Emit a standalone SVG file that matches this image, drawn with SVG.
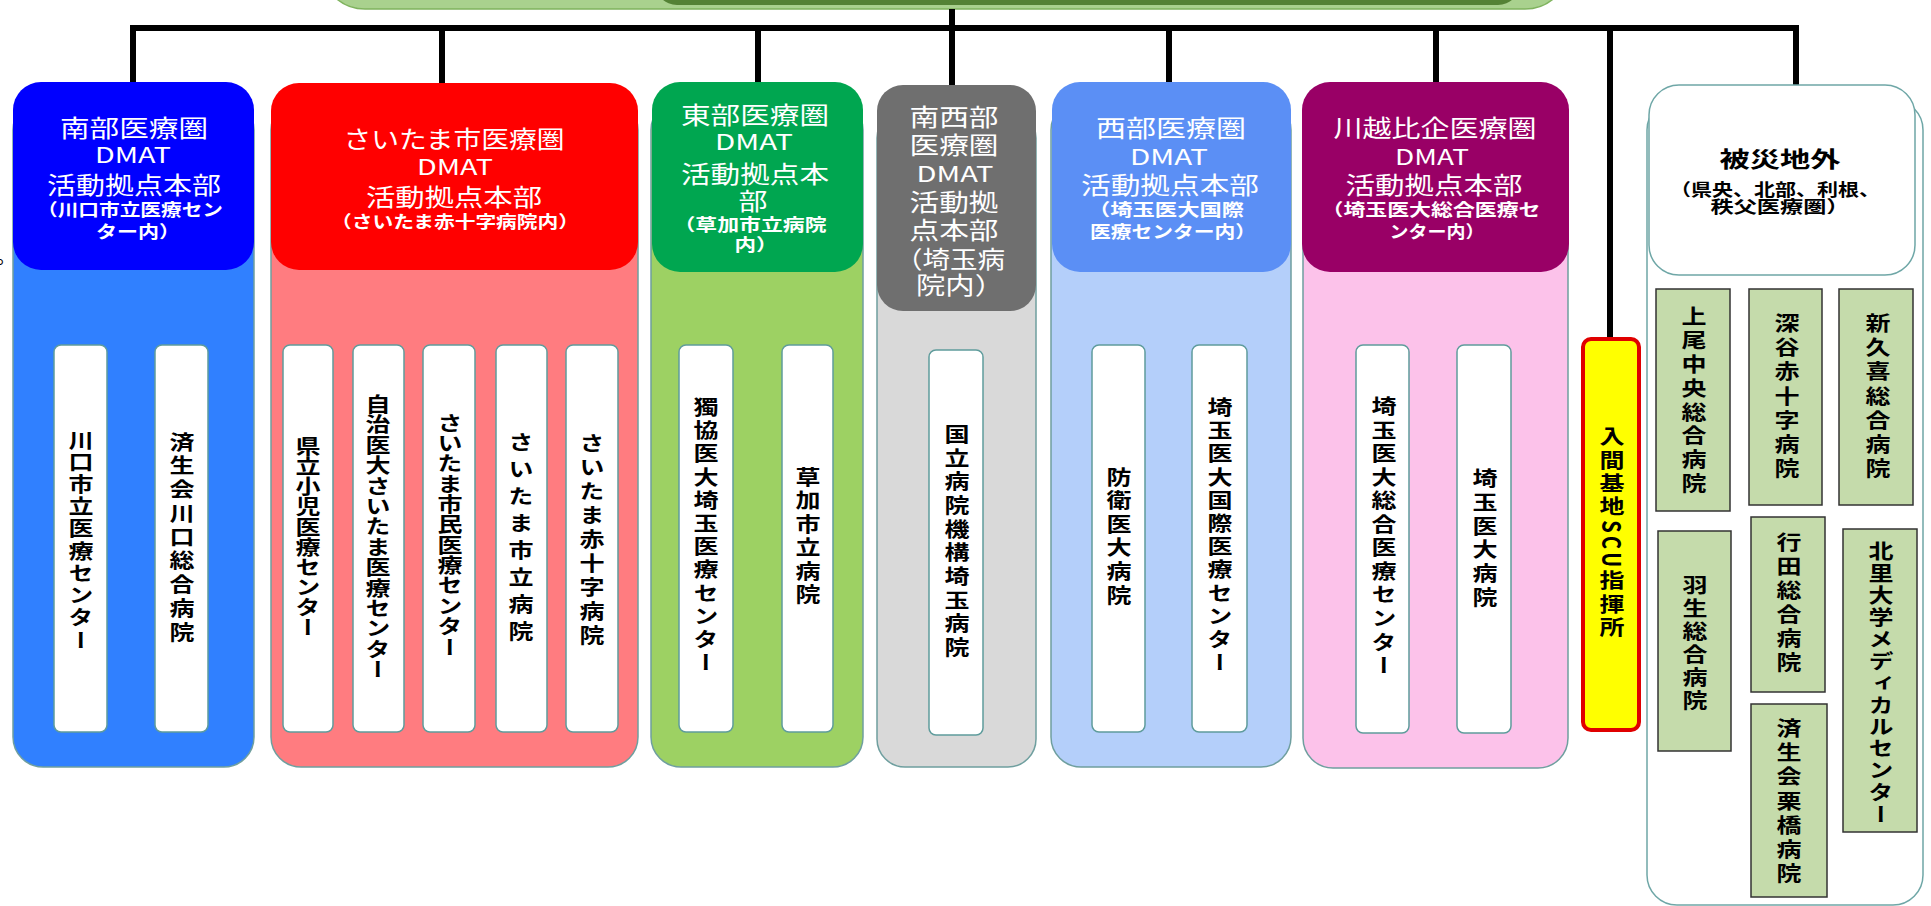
<svg xmlns="http://www.w3.org/2000/svg" width="1931" height="906" viewBox="0 0 1931 906">
<style>
text{font-family:"Noto Sans CJK JP","Liberation Sans",sans-serif}
.hw{fill:#fff;text-anchor:middle}
.hb{fill:#000;text-anchor:middle}
.f24{font-size:24px}
.f22{font-size:22px}
.f17{font-size:17px;font-weight:bold}
.bold{font-weight:bold}
.vt{writing-mode:vertical-rl;text-anchor:middle;font-size:20px;font-weight:bold;fill:#000}
.wbox{fill:#fff;stroke:#5f9c9c;stroke-width:1.5}
.gbox{fill:#c5dbab;stroke:#333;stroke-width:1.5}
.body{stroke:#6f9f9f;stroke-width:1.5}
.conn{fill:none;stroke:#000;stroke-width:6;stroke-linejoin:miter}
</style>
<rect x="0" y="0" width="1931" height="906" fill="#fff"/>
<text x="-4" y="264" style="font-size:20px;fill:#000">。</text>

<g id="top">
<rect x="325" y="-60" width="1240" height="69" rx="40" fill="#a9d18e" stroke="#7fb35e" stroke-width="1.5"/>
<rect x="655" y="-60" width="865" height="65" rx="22" fill="#548235"/>
</g>

<g id="connectors">
<path class="conn" d="M133 85 V28 H1796 V85"/>
<path class="conn" d="M952 9 V85"/>
<path class="conn" d="M442 28 V85 M758 28 V85 M1169 28 V85 M1436 28 V85"/>
<path class="conn" d="M1610 28 V338"/>
<path class="conn" d="M133 268 V303 M80 345 V303 H182 V345"/>
<path class="conn" d="M442 268 V303 M308 345 V303 H593 V345 M378 303 V345 M520 303 V345"/>
<path class="conn" d="M758 270 V303 M706 345 V303 H807 V345"/>
<path class="conn" d="M955 309 V350"/>
<path class="conn" d="M1169 270 V303 M1118 345 V303 H1220 V345"/>
<path class="conn" d="M1436 270 V303 M1383 345 V303 H1485 V345"/>
</g>

<g id="nanbu">
<rect class="body" x="13" y="100" width="241" height="667" rx="30" fill="#3080ff"/>
<rect x="13" y="82" width="241" height="188" rx="28" fill="#0000ff"/>
<text class="hw f24"><tspan x="134" y="137" textLength="148" lengthAdjust="spacingAndGlyphs">南部医療圏</tspan><tspan class="f22" x="133" y="163" textLength="76" lengthAdjust="spacingAndGlyphs">DMAT</tspan><tspan x="134" y="194" textLength="174" lengthAdjust="spacingAndGlyphs">活動拠点本部</tspan><tspan class="f17" x="130" y="216" textLength="186" lengthAdjust="spacingAndGlyphs">（川口市立医療セン</tspan><tspan class="f17" x="138" y="238" textLength="84" lengthAdjust="spacingAndGlyphs">ター内）</tspan></text>
</g>
<g id="nanbu-1"><rect class="wbox" x="54" y="345" width="53" height="387" rx="7"/>
<text class="vt" transform="translate(81,540) scale(1.25,1)" textLength="220" lengthAdjust="spacing">川口市立医療センター</text></g>
<g id="nanbu-2"><rect class="wbox" x="155" y="345" width="53" height="387" rx="7"/>
<text class="vt" transform="translate(182,537) scale(1.25,1)" textLength="210" lengthAdjust="spacing">済生会川口総合病院</text></g>

<g id="saitama">
<rect class="body" x="271" y="100" width="367" height="667" rx="30" fill="#ff7c80"/>
<rect x="271" y="83" width="367" height="187" rx="28" fill="#ff0000"/>
<text class="hw f24"><tspan x="454" y="148" textLength="221" lengthAdjust="spacingAndGlyphs">さいたま市医療圏</tspan><tspan class="f22" x="455" y="175" textLength="76" lengthAdjust="spacingAndGlyphs">DMAT</tspan><tspan x="454" y="206" textLength="176" lengthAdjust="spacingAndGlyphs">活動拠点本部</tspan><tspan class="f17" x="455" y="228" textLength="248" lengthAdjust="spacingAndGlyphs">（さいたま赤十字病院内）</tspan></text>
</g>
<g id="saitama-1"><rect class="wbox" x="283" y="345" width="50" height="387" rx="7"/>
<text class="vt" transform="translate(308,537) scale(1.25,1)" textLength="201" lengthAdjust="spacing">県立小児医療センター</text></g>
<g id="saitama-2"><rect class="wbox" x="353" y="345" width="51" height="387" rx="7"/>
<text class="vt" transform="translate(378,537) scale(1.25,1)" textLength="285" lengthAdjust="spacing">自治医大さいたま医療センター</text></g>
<g id="saitama-3"><rect class="wbox" x="423" y="345" width="52" height="387" rx="7"/>
<text class="vt" transform="translate(450,535) scale(1.25,1)" textLength="244" lengthAdjust="spacing">さいたま市民医療センター</text></g>
<g id="saitama-4"><rect class="wbox" x="496" y="345" width="51" height="387" rx="7"/>
<text class="vt" transform="translate(521,537) scale(1.25,1)" textLength="209" lengthAdjust="spacing">さいたま市立病院</text></g>
<g id="saitama-5"><rect class="wbox" x="566" y="345" width="52" height="387" rx="7"/>
<text class="vt" transform="translate(592,539) scale(1.25,1)" textLength="212" lengthAdjust="spacing">さいたま赤十字病院</text></g>

<g id="tobu">
<rect class="body" x="651" y="100" width="212" height="667" rx="30" fill="#9dd163"/>
<rect x="652" y="82" width="211" height="190" rx="28" fill="#00a650"/>
<text class="hw f24"><tspan x="755" y="124" textLength="148" lengthAdjust="spacingAndGlyphs">東部医療圏</tspan><tspan class="f22" x="754" y="150" textLength="78" lengthAdjust="spacingAndGlyphs">DMAT</tspan><tspan x="755" y="183" textLength="148" lengthAdjust="spacingAndGlyphs">活動拠点本</tspan><tspan x="753" y="210" textLength="29" lengthAdjust="spacingAndGlyphs">部</tspan><tspan class="f17" x="750" y="231" textLength="153" lengthAdjust="spacingAndGlyphs">（草加市立病院</tspan><tspan class="f17" x="756" y="251" textLength="43" lengthAdjust="spacingAndGlyphs">内）</tspan></text>
</g>
<g id="tobu-1"><rect class="wbox" x="679" y="345" width="54" height="387" rx="7"/>
<text class="vt" transform="translate(706,535) scale(1.25,1)" textLength="275" lengthAdjust="spacing">獨協医大埼玉医療センター</text></g>
<g id="tobu-2"><rect class="wbox" x="782" y="345" width="51" height="387" rx="7"/>
<text class="vt" transform="translate(808,536) scale(1.25,1)" textLength="137" lengthAdjust="spacing">草加市立病院</text></g>

<g id="nanseibu">
<rect class="body" x="877" y="110" width="159" height="657" rx="28" fill="#d9d9d9"/>
<rect x="877" y="85" width="159" height="226" rx="26" fill="#6f6f6f"/>
<text class="hw f24"><tspan x="954" y="126" textLength="89" lengthAdjust="spacingAndGlyphs">南西部</tspan><tspan x="954" y="154" textLength="89" lengthAdjust="spacingAndGlyphs">医療圏</tspan><tspan class="f22" x="955" y="182" textLength="77" lengthAdjust="spacingAndGlyphs">DMAT</tspan><tspan x="954" y="211" textLength="89" lengthAdjust="spacingAndGlyphs">活動拠</tspan><tspan x="954" y="239" textLength="89" lengthAdjust="spacingAndGlyphs">点本部</tspan><tspan x="950" y="268" textLength="110" lengthAdjust="spacingAndGlyphs">（埼玉病</tspan><tspan x="960" y="294" textLength="88" lengthAdjust="spacingAndGlyphs">院内）</tspan></text>
</g>
<g id="nanseibu-1"><rect class="wbox" x="929" y="350" width="54" height="385" rx="7"/>
<text class="vt" transform="translate(957,541) scale(1.25,1)" textLength="233" lengthAdjust="spacing">国立病院機構埼玉病院</text></g>

<g id="seibu">
<rect class="body" x="1051" y="100" width="240" height="667" rx="30" fill="#b4cffa"/>
<rect x="1052" y="82" width="239" height="190" rx="28" fill="#5b8ff5"/>
<text class="hw f24"><tspan x="1171" y="137" textLength="150" lengthAdjust="spacingAndGlyphs">西部医療圏</tspan><tspan class="f22" x="1169" y="165" textLength="78" lengthAdjust="spacingAndGlyphs">DMAT</tspan><tspan x="1170" y="194" textLength="178" lengthAdjust="spacingAndGlyphs">活動拠点本部</tspan><tspan class="f17" x="1166" y="216" textLength="156" lengthAdjust="spacingAndGlyphs">（埼玉医大国際</tspan><tspan class="f17" x="1173" y="238" textLength="166" lengthAdjust="spacingAndGlyphs">医療センター内）</tspan></text>
</g>
<g id="seibu-1"><rect class="wbox" x="1092" y="345" width="53" height="387" rx="7"/>
<text class="vt" transform="translate(1119,536) scale(1.25,1)" textLength="138" lengthAdjust="spacing">防衛医大病院</text></g>
<g id="seibu-2"><rect class="wbox" x="1192" y="345" width="55" height="387" rx="7"/>
<text class="vt" transform="translate(1220,535) scale(1.25,1)" textLength="275" lengthAdjust="spacing">埼玉医大国際医療センター</text></g>

<g id="kawagoe">
<rect class="body" x="1303" y="100" width="265" height="668" rx="30" fill="#fcc2ea"/>
<rect x="1302" y="82" width="267" height="190" rx="28" fill="#990066"/>
<text class="hw f24"><tspan x="1435" y="137" textLength="203" lengthAdjust="spacingAndGlyphs">川越比企医療圏</tspan><tspan class="f22" x="1432" y="165" textLength="74" lengthAdjust="spacingAndGlyphs">DMAT</tspan><tspan x="1434" y="194" textLength="177" lengthAdjust="spacingAndGlyphs">活動拠点本部</tspan><tspan class="f17" x="1431" y="216" textLength="219" lengthAdjust="spacingAndGlyphs">（埼玉医大総合医療セ</tspan><tspan class="f17" x="1437" y="238" textLength="95" lengthAdjust="spacingAndGlyphs">ンター内）</tspan></text>
</g>
<g id="kawagoe-1"><rect class="wbox" x="1356" y="345" width="53" height="388" rx="7"/>
<text class="vt" transform="translate(1384,536) scale(1.25,1)" textLength="279" lengthAdjust="spacing">埼玉医大総合医療センター</text></g>
<g id="kawagoe-2"><rect class="wbox" x="1457" y="345" width="54" height="388" rx="7"/>
<text class="vt" transform="translate(1485,538) scale(1.25,1)" textLength="139" lengthAdjust="spacing">埼玉医大病院</text></g>

<g id="scu">
<rect x="1583" y="339" width="56" height="391" rx="8" fill="#ffff00" stroke="#e00000" stroke-width="4"/>
<text class="vt" transform="translate(1612,532) scale(1.25,1)" textLength="211" lengthAdjust="spacing">入間基地SCU指揮所</text>
</g>

<g id="outside">
<rect x="1647" y="100" width="276" height="805" rx="30" fill="#fff" stroke="#6fa7a7" stroke-width="1.5"/>
<rect x="1649" y="85" width="266" height="190" rx="30" fill="#fff" stroke="#6fa7a7" stroke-width="1.5"/>
<text class="hb f17"><tspan class="f22 bold" x="1780" y="167" textLength="121" lengthAdjust="spacingAndGlyphs">被災地外</tspan><tspan x="1775" y="196" textLength="210" lengthAdjust="spacingAndGlyphs">（県央、北部、利根、</tspan><tspan x="1780" y="213" textLength="139" lengthAdjust="spacingAndGlyphs">秩父医療圏）</tspan></text>
</g>
<g id="outside-1"><rect class="gbox" x="1656" y="289" width="74" height="222"/>
<text class="vt" transform="translate(1694,400) scale(1.25,1)" textLength="187" lengthAdjust="spacing">上尾中央総合病院</text></g>
<g id="outside-2"><rect class="gbox" x="1749" y="289" width="73" height="216"/>
<text class="vt" transform="translate(1787,396) scale(1.25,1)" textLength="165" lengthAdjust="spacing">深谷赤十字病院</text></g>
<g id="outside-3"><rect class="gbox" x="1839" y="289" width="74" height="216"/>
<text class="vt" transform="translate(1878,396) scale(1.25,1)" textLength="165" lengthAdjust="spacing">新久喜総合病院</text></g>
<g id="outside-4"><rect class="gbox" x="1658" y="531" width="73" height="220"/>
<text class="vt" transform="translate(1695,643) scale(1.25,1)" textLength="135" lengthAdjust="spacing">羽生総合病院</text></g>
<g id="outside-5"><rect class="gbox" x="1751" y="517" width="74" height="175"/>
<text class="vt" transform="translate(1789,602) scale(1.25,1)" textLength="140" lengthAdjust="spacing">行田総合病院</text></g>
<g id="outside-6"><rect class="gbox" x="1751" y="704" width="76" height="193"/>
<text class="vt" transform="translate(1789,801) scale(1.25,1)" textLength="165" lengthAdjust="spacing">済生会栗橋病院</text></g>
<g id="outside-7"><rect class="gbox" x="1843" y="529" width="74" height="303"/>
<text class="vt" transform="translate(1881,683) scale(1.25,1)" textLength="283" lengthAdjust="spacing">北里大学メディカルセンター</text></g>
</svg>
